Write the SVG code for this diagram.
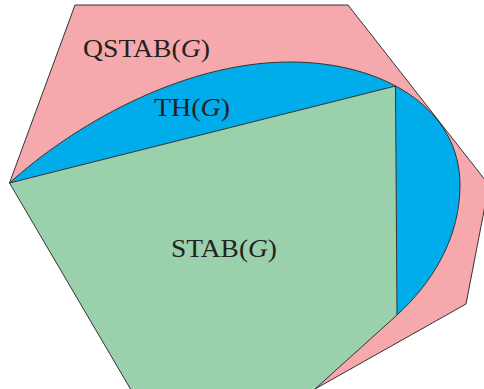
<svg xmlns="http://www.w3.org/2000/svg" width="484" height="389" viewBox="0 0 484 389">
<style>
.sh{stroke:#333;stroke-width:1;stroke-linejoin:round}
.lbl{font-family:"Liberation Serif","DejaVu Serif",serif;font-size:26px;fill:#222}
.it{font-style:italic}
</style>
<rect width="484" height="389" fill="#fff"/>
<g id="qstab">
<polygon class="sh" fill="#F6A9AC" points="9.5,183 75,5 348,5 489,185 466,304 315,389"/>
<text class="lbl" x="83" y="57" textLength="127" lengthAdjust="spacingAndGlyphs">QSTAB(<tspan class="it">G</tspan>)</text>
</g>
<g id="th">
<path class="sh" fill="#00ADEA" d="M9.5,183 C70,128 180,62 290,62 C383,62 460,108 460,185 C460,240 430,285 397,315 Z"/>
<text class="lbl" x="154" y="115.5" textLength="76" lengthAdjust="spacingAndGlyphs">TH(<tspan class="it">G</tspan>)</text>
</g>
<g id="stab">
<polygon class="sh" fill="#9AD1AC" points="9.5,183 395.5,86 397,315 315,389 313,395 134,395"/>
<text class="lbl" x="171" y="256.5" textLength="106" lengthAdjust="spacingAndGlyphs">STAB(<tspan class="it">G</tspan>)</text>
</g>
<g id="connectors"/>
</svg>
